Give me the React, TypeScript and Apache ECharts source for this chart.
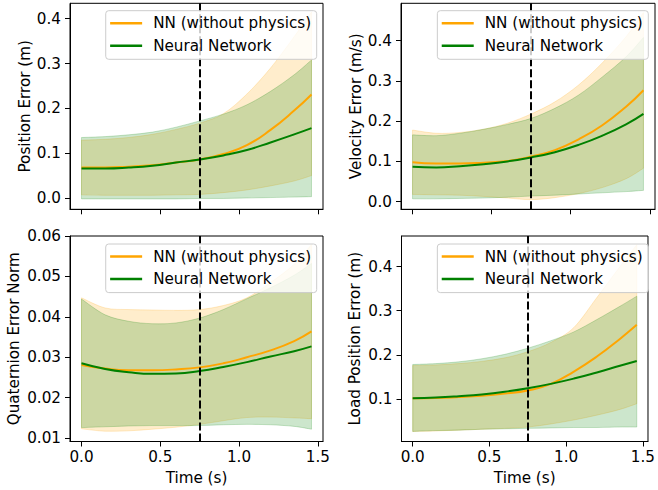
import React, { useEffect, useRef } from 'react';
import * as echarts from 'echarts';

// ---------- data ----------
const TIME = [0, 0.15, 0.3, 0.45, 0.6, 0.75, 0.9, 1.05, 1.2, 1.35, 1.46];
const X_TICKS = [0, 0.5, 1.0, 1.5];
const SPLIT_TIME = 0.75;
const SERIES_NAMES = ['NN (without physics)', 'Neural Network'];
const Y_TITLES = ['Position Error (m)', 'Velocity Error (m/s)', 'Quaternion Error Norm', 'Load Position Error (m)'];
const X_TITLE = 'Time (s)';

// Position error
const posNoPhysMean = [0.068, 0.068, 0.070, 0.073, 0.079, 0.086, 0.098, 0.118, 0.152, 0.195, 0.231];
const posNoPhysUpper = [0.129, 0.131, 0.135, 0.142, 0.153, 0.167, 0.188, 0.232, 0.290, 0.360, 0.415];
const posNoPhysLower = [0.007, 0.006, 0.006, 0.006, 0.007, 0.008, 0.012, 0.018, 0.027, 0.038, 0.050];
const posNNMean = [0.066, 0.066, 0.068, 0.072, 0.079, 0.086, 0.095, 0.107, 0.124, 0.142, 0.156];
const posNNUpper = [0.135, 0.137, 0.141, 0.147, 0.158, 0.172, 0.187, 0.208, 0.238, 0.275, 0.308];
const posNNLower = [-0.002, -0.002, -0.002, -0.002, -0.002, -0.001, -0.001, 0.0, 0.001, 0.002, 0.003];
const posTicks = [0, 0.1, 0.2, 0.3, 0.4];

// Velocity error
const velNoPhysMean = [0.098, 0.095, 0.095, 0.097, 0.101, 0.112, 0.128, 0.155, 0.190, 0.236, 0.277];
const velNoPhysUpper = [0.178, 0.170, 0.172, 0.180, 0.195, 0.218, 0.248, 0.290, 0.345, 0.410, 0.470];
const velNoPhysLower = [0.018, 0.017, 0.016, 0.013, 0.009, 0.005, 0.010, 0.020, 0.035, 0.057, 0.083];
const velNNMean = [0.087, 0.085, 0.088, 0.093, 0.100, 0.110, 0.123, 0.141, 0.164, 0.192, 0.218];
const velNNUpper = [0.166, 0.164, 0.170, 0.180, 0.192, 0.207, 0.232, 0.265, 0.310, 0.360, 0.408];
const velNNLower = [0.007, 0.007, 0.008, 0.009, 0.011, 0.014, 0.016, 0.019, 0.022, 0.025, 0.028];
const velTicks = [0, 0.1, 0.2, 0.3, 0.4];

// Quaternion error norm
const quatNoPhysMean = [0.0281, 0.0272, 0.0268, 0.0268, 0.0270, 0.0275, 0.0285, 0.0300, 0.0317, 0.0340, 0.0364];
const quatNoPhysUpper = [0.0447, 0.0422, 0.0418, 0.0417, 0.0416, 0.0418, 0.0428, 0.0447, 0.0485, 0.0530, 0.0579];
const quatNoPhysLower = [0.0123, 0.0117, 0.0118, 0.0122, 0.0127, 0.0134, 0.0143, 0.0151, 0.0152, 0.0150, 0.0148];
const quatNNMean = [0.0285, 0.0271, 0.0263, 0.0259, 0.0260, 0.0266, 0.0276, 0.0288, 0.0302, 0.0315, 0.0327];
const quatNNUpper = [0.0444, 0.0405, 0.0389, 0.0383, 0.0385, 0.0397, 0.0418, 0.0445, 0.0472, 0.0503, 0.0532];
const quatNNLower = [0.0126, 0.0128, 0.0130, 0.0131, 0.0131, 0.0131, 0.0133, 0.0134, 0.0133, 0.0129, 0.0122];
const quatTicks = [0.01, 0.02, 0.03, 0.04, 0.05, 0.06];

// Load position error
const loadNoPhysMean = [0.1015, 0.102, 0.104, 0.107, 0.112, 0.119, 0.134, 0.162, 0.196, 0.236, 0.268];
const loadNoPhysUpper = [0.1755, 0.177, 0.180, 0.185, 0.193, 0.207, 0.228, 0.262, 0.330, 0.400, 0.450];
const loadNoPhysLower = [0.026, 0.027, 0.029, 0.031, 0.033, 0.036, 0.043, 0.052, 0.063, 0.076, 0.089];
const loadNNMean = [0.1015, 0.103, 0.106, 0.110, 0.116, 0.124, 0.134, 0.146, 0.160, 0.175, 0.186];
const loadNNUpper = [0.178, 0.180, 0.184, 0.191, 0.201, 0.215, 0.232, 0.252, 0.280, 0.310, 0.333];
const loadNNLower = [0.026, 0.028, 0.029, 0.031, 0.032, 0.033, 0.034, 0.035, 0.035, 0.036, 0.036];
const loadTicks = [0.1, 0.2, 0.3, 0.4];

// ---------- styling / layout ----------
const FONT = 'DejaVu Sans';
const FS = 15.2;
const ORANGE = '#FFA500';
const GREEN = '#008000';
const ORANGE_FILL = 'rgba(255,165,0,0.2)';
const GREEN_FILL = 'rgba(0,128,0,0.2)';

const PANELS = [
  {
    grid: { left: 70, top: 3.3, width: 253, height: 206 },
    yMin: -0.0252, yMax: 0.4344, ticks: posTicks, dec: 1, nameGap: 38, legendRight: 341.3, legendTop: 10.7,
    noPhys: [posNoPhysMean, posNoPhysUpper, posNoPhysLower], nn: [posNNMean, posNNUpper, posNNLower], showX: false,
  },
  {
    grid: { left: 401, top: 3.3, width: 254, height: 206 },
    yMin: -0.019, yMax: 0.493, ticks: velTicks, dec: 1, nameGap: 38, legendRight: 9.7, legendTop: 10.7,
    noPhys: [velNoPhysMean, velNoPhysUpper, velNoPhysLower], nn: [velNNMean, velNNUpper, velNNLower], showX: false,
  },
  {
    grid: { left: 70, top: 236, width: 253, height: 205.5 },
    yMin: 0.00916, yMax: 0.06, ticks: quatTicks, dec: 2, nameGap: 48.3, legendRight: 341.3, legendTop: 244,
    noPhys: [quatNoPhysMean, quatNoPhysUpper, quatNoPhysLower], nn: [quatNNMean, quatNNUpper, quatNNLower], showX: true,
  },
  {
    grid: { left: 401.5, top: 236, width: 254, height: 205.5 },
    yMin: 0.0032, yMax: 0.4696, ticks: loadTicks, dec: 1, nameGap: 39, legendRight: 9.7, legendTop: 244,
    noPhys: [loadNoPhysMean, loadNoPhysUpper, loadNoPhysLower], nn: [loadNNMean, loadNNUpper, loadNNLower], showX: true,
  },
];

function spline(pts: number[][]): string {
  let d = '';
  for (let i = 0; i < pts.length - 1; i++) {
    const p0 = pts[Math.max(i - 1, 0)];
    const p1 = pts[i];
    const p2 = pts[i + 1];
    const p3 = pts[Math.min(i + 2, pts.length - 1)];
    const c1x = p1[0] + (p2[0] - p0[0]) / 6;
    const c1y = p1[1] + (p2[1] - p0[1]) / 6;
    const c2x = p2[0] - (p3[0] - p1[0]) / 6;
    const c2y = p2[1] - (p3[1] - p1[1]) / 6;
    d += ` C${c1x},${c1y} ${c2x},${c2y} ${p2[0]},${p2[1]}`;
  }
  return d;
}

function bandSeries(i: number, upper: number[], lower: number[], fill: string, name: string) {
  return {
    type: 'custom',
    name,
    xAxisIndex: i,
    yAxisIndex: i,
    clip: true,
    silent: true,
    z: 1,
    data: [[TIME[0], lower[0]]],
    renderItem: (_params: any, api: any) => {
      const up = TIME.map((t, k) => api.coord([t, upper[k]]));
      const lo = TIME.map((t, k) => api.coord([t, lower[k]])).reverse();
      const d =
        `M${up[0][0]},${up[0][1]}` + spline(up) + ` L${lo[0][0]},${lo[0][1]}` + spline(lo) + ' Z';
      return {
        type: 'path',
        shape: { pathData: d },
        style: { fill, stroke: fill, lineWidth: 1 },
      };
    },
  };
}

function lineSeries(i: number, name: string, mean: number[], color: string, withMark: boolean) {
  const s: any = {
    type: 'line',
    name,
    xAxisIndex: i,
    yAxisIndex: i,
    data: TIME.map((t, k) => [t, mean[k]]),
    smooth: 0.5,
    symbol: 'none',
    showSymbol: false,
    color,
    itemStyle: { color },
    lineStyle: { color, width: 2 },
    z: 3,
  };
  if (withMark) {
    s.markLine = {
      silent: true,
      symbol: ['none', 'none'],
      label: { show: false },
      lineStyle: { color: '#000', type: [8, 3], width: 2 },
      data: [{ xAxis: SPLIT_TIME }],
      z: 4,
    };
  }
  return s;
}

function buildOption() {
  const textBase = { fontFamily: FONT, fontSize: FS, color: '#000' };
  const grid: any[] = [];
  const xAxis: any[] = [];
  const yAxis: any[] = [];
  const series: any[] = [];
  const legend: any[] = [];
  PANELS.forEach((p, i) => {
    grid.push({ ...p.grid, show: true, borderColor: '#000', borderWidth: 1, backgroundColor: 'transparent', containLabel: false });
    xAxis.push({
      type: 'value',
      gridIndex: i,
      min: -0.073,
      max: 1.533,
      axisLine: { show: true, onZero: false, lineStyle: { color: '#000', width: 1 } },
      axisTick: { show: true, length: 5, customValues: X_TICKS, lineStyle: { color: '#000', width: 1 } },
      axisLabel: { show: p.showX, customValues: X_TICKS, formatter: (v: number) => v.toFixed(1), margin: 8, ...textBase },
      splitLine: { show: false },
      name: p.showX ? X_TITLE : '',
      nameLocation: 'middle',
      nameGap: 28.5,
      nameTextStyle: textBase,
    });
    yAxis.push({
      type: 'value',
      gridIndex: i,
      min: p.yMin,
      max: p.yMax,
      axisLine: { show: true, onZero: false, lineStyle: { color: '#000', width: 1 } },
      axisTick: { show: true, length: 5, customValues: p.ticks, lineStyle: { color: '#000', width: 1 } },
      axisLabel: { customValues: p.ticks, formatter: (v: number) => v.toFixed(p.dec), margin: 9, ...textBase },
      splitLine: { show: false },
      name: Y_TITLES[i],
      nameLocation: 'middle',
      nameGap: p.nameGap,
      nameTextStyle: textBase,
    });
    series.push(bandSeries(i, p.noPhys[1], p.noPhys[2], ORANGE_FILL, 'band-nophys-' + i));
    series.push(bandSeries(i, p.nn[1], p.nn[2], GREEN_FILL, 'band-nn-' + i));
    series.push(lineSeries(i, SERIES_NAMES[0], p.noPhys[0], ORANGE, false));
    series.push(lineSeries(i, SERIES_NAMES[1], p.nn[0], GREEN, true));
    legend.push({
      data: SERIES_NAMES,
      orient: 'vertical',
      right: p.legendRight,
      top: p.legendTop,
      icon: 'rect',
      itemWidth: 32,
      itemHeight: 2.5,
      itemGap: 6.4,
      padding: [4.6, 5.6, 5.6, 4.4],
      backgroundColor: 'rgba(255,255,255,0.8)',
      borderColor: '#cccccc',
      borderWidth: 1,
      borderRadius: 3,
      selectedMode: false,
      z: 10,
      textStyle: { ...textBase, lineHeight: 16, padding: [0, 0, 0, 6] },
    });
  });
  return { animation: false, backgroundColor: '#fff', grid, xAxis, yAxis, series, legend };
}

export default function App() {
  const ref = useRef<HTMLDivElement>(null);
  useEffect(() => {
    if (!ref.current) return;
    const chart = echarts.init(ref.current, undefined, { renderer: 'svg' });
    chart.setOption(buildOption() as any);
    return () => chart.dispose();
  }, []);
  return <div ref={ref} style={{ position: 'absolute', left: 0, top: 0, width: 658, height: 490 }} />;
}
